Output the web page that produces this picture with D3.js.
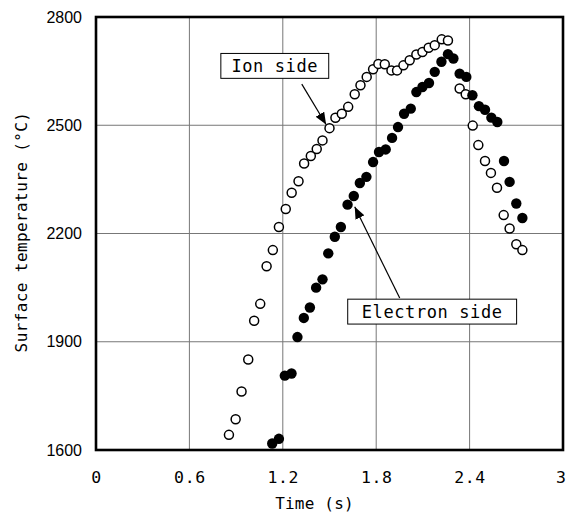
<!DOCTYPE html>
<html>
<head>
<meta charset="utf-8">
<script src="https://cdn.jsdelivr.net/npm/d3@7"></script>
<style>
  body { margin: 0; background: #fff; }
  .mono { font-family: "DejaVu Sans Mono", monospace; }
</style>
</head>
<body>
<div id="vis"></div>
<script>
// Ion side (open circles)
var ionTime = [0.854, 0.897, 0.935, 0.978, 1.016, 1.055, 1.096, 1.136, 1.175, 1.219,
    1.257, 1.301, 1.337, 1.380, 1.418, 1.455, 1.500, 1.538, 1.579, 1.620,
    1.662, 1.699, 1.739, 1.780, 1.814, 1.855, 1.898, 1.934, 1.975, 2.015,
    2.058, 2.097, 2.137, 2.176, 2.221, 2.261, 2.336, 2.375, 2.420, 2.456,
    2.499, 2.537, 2.576, 2.619, 2.657, 2.700, 2.739];
var ionTemp = [1642, 1685, 1762, 1851, 1958, 2005, 2109, 2154, 2218, 2268,
    2313, 2345, 2394, 2415, 2434, 2458, 2492, 2521, 2532, 2551,
    2586, 2611, 2634, 2655, 2670, 2669, 2652, 2652, 2666, 2680,
    2696, 2703, 2715, 2722, 2738, 2735, 2602, 2586, 2499, 2445,
    2401, 2368, 2327, 2251, 2214, 2170, 2154];

// Electron side (filled circles)
var elecTime = [1.132, 1.175, 1.213, 1.256, 1.294, 1.335, 1.374, 1.414, 1.455, 1.492,
    1.534, 1.573, 1.616, 1.656, 1.695, 1.737, 1.780, 1.818, 1.861, 1.902,
    1.940, 1.979, 2.022, 2.058, 2.097, 2.139, 2.176, 2.219, 2.261, 2.296,
    2.336, 2.379, 2.418, 2.460, 2.499, 2.540, 2.578, 2.621, 2.657, 2.700,
    2.739];
var elecTemp = [1618, 1631, 1806, 1812, 1913, 1966, 1995, 2050, 2073, 2145,
    2191, 2218, 2280, 2304, 2340, 2357, 2398, 2426, 2433, 2465,
    2495, 2532, 2546, 2592, 2606, 2617, 2648, 2676, 2697, 2685,
    2643, 2634, 2583, 2553, 2543, 2521, 2509, 2401, 2343, 2283,
    2243];

// axes
var xTicks = [0, 0.6, 1.2, 1.8, 2.4, 3];
var xTickLabels = ['0', '0.6', '1.2', '1.8', '2.4', '3'];
var yTicks = [1600, 1900, 2200, 2500, 2800];

var width = 567, height = 514;
var margin = { left: 96, top: 17, right: 4, bottom: 64 };
var w = width - margin.left - margin.right;
var h = height - margin.top - margin.bottom;

var x = d3.scaleLinear().domain([0, 3]).range([0, w]);
var y = d3.scaleLinear().domain([1600, 2800]).range([h, 0]);

var svg = d3.select('#vis').append('svg')
    .attr('width', width)
    .attr('height', height);

var g = svg.append('g')
    .attr('transform', 'translate(' + margin.left + ',' + margin.top + ')');

// grid
g.selectAll('.vgrid').data(xTicks.slice(1, -1)).enter()
    .append('line')
    .attr('class', 'vgrid')
    .attr('x1', function(d) { return x(d); })
    .attr('x2', function(d) { return x(d); })
    .attr('y1', 0).attr('y2', h)
    .attr('stroke', '#777').attr('stroke-width', 1);

g.selectAll('.hgrid').data(yTicks.slice(1, -1)).enter()
    .append('line')
    .attr('class', 'hgrid')
    .attr('y1', function(d) { return y(d); })
    .attr('y2', function(d) { return y(d); })
    .attr('x1', 0).attr('x2', w)
    .attr('stroke', '#777').attr('stroke-width', 1);

// tick labels
var xAxis = d3.axisBottom(x).tickValues(xTicks)
    .tickFormat(function(d, i) { return xTickLabels[i]; })
    .tickSize(0).tickPadding(21);
var gx = g.append('g').attr('transform', 'translate(0,' + h + ')').call(xAxis);
gx.select('.domain').remove();
gx.selectAll('text')
    .attr('class', 'mono')
    .attr('font-size', 16.5)
    .attr('letter-spacing', 0.6)
    .attr('fill', '#000');
// last label sits at the window edge; keep it inside
gx.selectAll('.tick').filter(function(d) { return d === 3; }).select('text')
    .attr('text-anchor', 'end')
    .attr('dx', 3);

var yAxis = d3.axisLeft(y).tickValues(yTicks)
    .tickFormat(d3.format('d'))
    .tickSize(0).tickPadding(14);
var gy = g.append('g').call(yAxis);
gy.select('.domain').remove();
gy.selectAll('text')
    .attr('font-family', '"Liberation Sans", Arial, sans-serif')
    .attr('font-size', 16)
    .attr('fill', '#000');

// frame
g.append('rect')
    .attr('x', 0).attr('y', 0)
    .attr('width', w).attr('height', h)
    .attr('fill', 'none')
    .attr('stroke', '#000')
    .attr('stroke-width', 2.6);

// axis titles
svg.append('text')
    .attr('class', 'mono')
    .attr('x', margin.left + x(1.5) - 15)
    .attr('y', 509)
    .attr('text-anchor', 'middle')
    .attr('font-size', 16)
    .attr('letter-spacing', 0.2)
    .text('Time (s)');

svg.append('text')
    .attr('class', 'mono')
    .attr('transform', 'translate(27,232) rotate(-90)')
    .attr('text-anchor', 'middle')
    .attr('font-size', 16)
    .attr('letter-spacing', 0.4)
    .text('Surface temperature (\u00b0C)');

// arrow marker
svg.append('defs').append('marker')
    .attr('id', 'head')
    .attr('viewBox', '0 0 12 10')
    .attr('refX', 12).attr('refY', 5)
    .attr('markerWidth', 12).attr('markerHeight', 10)
    .attr('markerUnits', 'userSpaceOnUse')
    .attr('orient', 'auto')
    .append('path')
    .attr('d', 'M0,0 L12,5 L0,10 Z')
    .attr('fill', '#000');

// annotations (data units)
var notes = [
    { text: 'Ion side', t0: 0.802, t1: 1.495, T0: 2699, T1: 2630,
      from: [1.322, 2614], to: [1.478, 2502] },
    { text: 'Electron side', t0: 1.617, t1: 2.702, T0: 2018, T1: 1949,
      from: [1.951, 2021], to: [1.662, 2274] }
];

notes.forEach(function(n) {
    g.append('line')
        .attr('x1', x(n.from[0])).attr('y1', y(n.from[1]))
        .attr('x2', x(n.to[0])).attr('y2', y(n.to[1]))
        .attr('stroke', '#000').attr('stroke-width', 1.2)
        .attr('marker-end', 'url(#head)');
});

// points
g.selectAll('.ion').data(ionTime).enter()
    .append('circle')
    .attr('class', 'ion')
    .attr('cx', function(d) { return x(d); })
    .attr('cy', function(d, i) { return y(ionTemp[i]); })
    .attr('r', 4.5)
    .attr('fill', '#fff')
    .attr('stroke', '#000')
    .attr('stroke-width', 1.5);

g.selectAll('.elec').data(elecTime).enter()
    .append('circle')
    .attr('class', 'elec')
    .attr('cx', function(d) { return x(d); })
    .attr('cy', function(d, i) { return y(elecTemp[i]); })
    .attr('r', 5.2)
    .attr('fill', '#000');

notes.forEach(function(n) {
    g.append('rect')
        .attr('x', x(n.t0)).attr('y', y(n.T0))
        .attr('width', x(n.t1) - x(n.t0))
        .attr('height', y(n.T1) - y(n.T0))
        .attr('fill', '#fff')
        .attr('stroke', '#000').attr('stroke-width', 1);
    g.append('text')
        .attr('class', 'mono')
        .attr('x', (x(n.t0) + x(n.t1)) / 2)
        .attr('y', (y(n.T0) + y(n.T1)) / 2)
        .attr('dy', '0.36em')
        .attr('text-anchor', 'middle')
        .attr('font-size', 17)
        .attr('letter-spacing', 0.6)
        .text(n.text);
});
</script>
</body>
</html>
